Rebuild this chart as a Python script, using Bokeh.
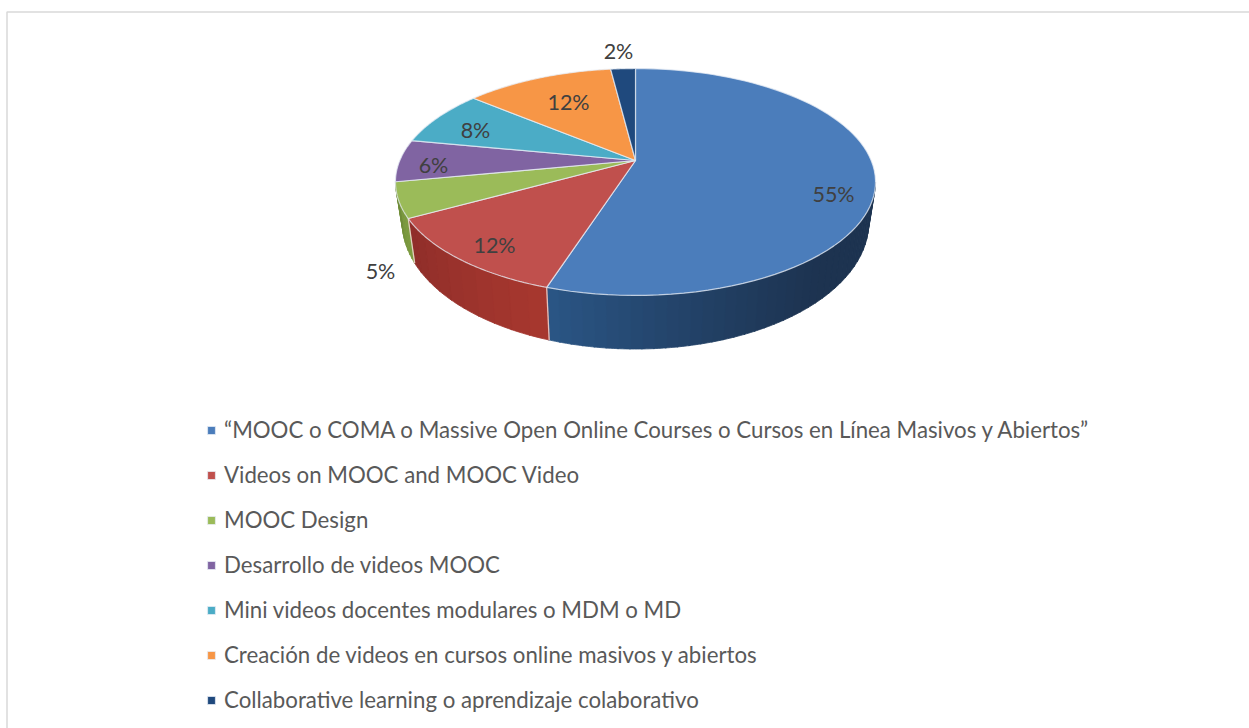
import numpy as np
from bokeh.plotting import figure
from bokeh.models import Range1d, Legend, LegendItem
from bokeh.core.properties import value
from bokeh.embed import file_html
from bokeh.resources import INLINE

categories = [
    "“MOOC o COMA o Massive Open Online Courses o Cursos en Línea Masivos y Abiertos”",
    "Videos on MOOC and MOOC Video",
    "MOOC Design",
    "Desarrollo de videos MOOC",
    "Mini videos docentes modulares o MDM o MD",
    "Creación de videos en cursos online masivos y abiertos",
    "Collaborative learning o aprendizaje colaborativo",
]
shares = [55, 12, 5, 6, 8, 12, 2]
top_colors = ["#4B7DBB", "#C0504D", "#9BBB59", "#8064A2", "#4BACC6", "#F79646", "#1F497D"]
side_bright = ["#2B5686", "#A8382F", "#7F9E42", "#6B5089", "#358DA5", "#D07A30", "#17375E"]
side_dark = ["#1D3350", "#8F2E2A", "#6F8C38", "#6B5089", "#358DA5", "#D07A30", "#17375E"]
label_pos_x = [833, 494, 380, 433, 475, 568, 618]
label_pos_y = [193, 244, 270, 164, 129, 101, 50]

W, H = 1249, 728
p = figure(width=W, height=H, output_backend="svg", toolbar_location=None,
           x_range=Range1d(0, W), y_range=Range1d(H, 0), min_border=0,
           outline_line_color=None, margin=(0, 0, 0, 0))
p.xaxis.visible = False
p.yaxis.visible = False
p.xgrid.visible = False
p.ygrid.visible = False

# frame (left and top only)
p.line([6.5, 6.5, W], [H, 11.5, 11.5], line_color="#D9D9D9", line_width=1.5)

# perspective disc model
CX = 635.0
CY_T, RX_T, RY_T = 160.0, 235.7, 109.4
CY_B, RX_B, RY_B = 198.0, 229.0, 122.0
K = 0.1894


def rim(theta, cy, rx, ry):
    u, v = np.sin(theta), -np.cos(theta)
    d = 1 - K * v
    return CX + rx * u / d, cy + ry * v / d


edges = np.radians(np.cumsum([0] + shares) * 360.0 / sum(shares))


def mix(a, b, t):
    ca = [int(a[i:i + 2], 16) for i in (1, 3, 5)]
    cb = [int(b[i:i + 2], 16) for i in (1, 3, 5)]
    return "#%02x%02x%02x" % tuple(int(x + (y - x) * t) for x, y in zip(ca, cb))


# side walls, from the rightmost silhouette round the front
limit_r = np.arccos(-K)
limit_l = 2 * np.pi - limit_r
for i in range(7):
    a0, a1 = max(edges[i], limit_r), min(edges[i + 1], limit_l)
    if a1 <= a0:
        continue
    strips = 40 if i == 0 else 10
    cuts = np.linspace(a0, a1, strips + 1)
    for s in range(strips):
        th = np.linspace(cuts[s], cuts[s + 1] + 0.004, 6)
        xt, yt = rim(th, CY_T, RX_T, RY_T)
        xb, yb = rim(th[::-1], CY_B, RX_B, RY_B)
        f = (s + 0.5) / strips  # 0 at the right end of this wall, 1 at its left end
        if i == 0:
            c = mix(side_dark[i], side_bright[i], max(0.0, (f - 0.35) / 0.65) ** 1.3)
        else:
            c = mix(side_bright[i], side_dark[i], f)
        p.patch(np.r_[xt, xb], np.r_[yt, yb], fill_color=c, line_color=c, line_width=0.8)

# wall seams
for e in edges[1:3]:
    xs, ys = rim(np.array([e]), CY_T, RX_T, RY_T)
    xb, yb = rim(np.array([e]), CY_B, RX_B, RY_B)
    p.line([xs[0], xb[0]], [ys[0], yb[0]], line_color="#F2D9D4", line_width=1.3, line_alpha=0.85)

# top faces
items = []
for i in range(7):
    th = np.linspace(edges[i], edges[i + 1], 80)
    x, y = rim(th, CY_T, RX_T, RY_T)
    r = p.patch(np.r_[CX, x], np.r_[CY_T, y], fill_color=top_colors[i],
                line_color="#E8EEF6", line_alpha=0.75, line_width=1.2)
    items.append(LegendItem(label=categories[i], renderers=[r]))

# labels
p.text(label_pos_x, label_pos_y, text=[f"{s}%" for s in shares],
       text_font=value("Lato"), text_font_size="21.5px", text_color="#404040",
       text_align="center", text_baseline="middle")

legend = Legend(items=items, location=(206, 15), orientation="vertical",
                background_fill_alpha=0, border_line_color=None,
                label_text_font="Lato", label_text_font_size="22.25px",
                label_text_color="#595959", glyph_width=10, glyph_height=10,
                label_standoff=8, label_height=22, spacing=18, padding=0, margin=0)
p.add_layout(legend, "center")

open("out.html", "w").write(file_html(p, INLINE))
